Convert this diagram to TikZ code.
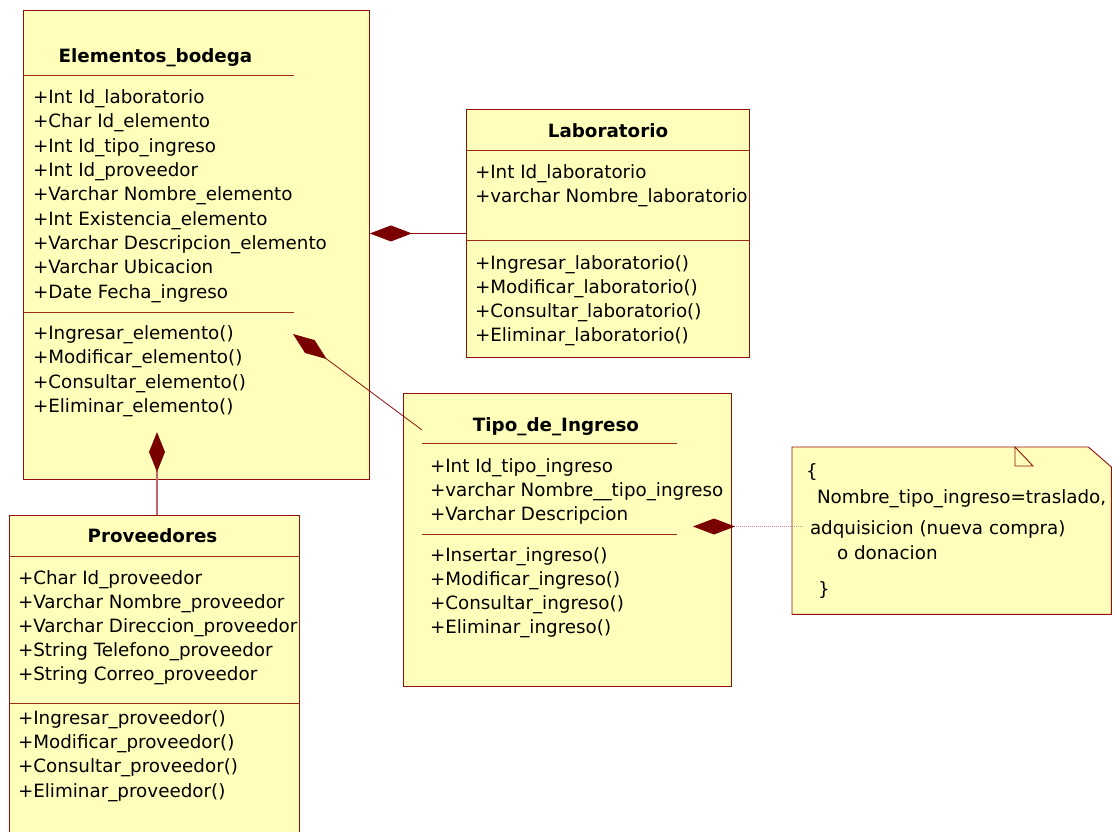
\documentclass[tikz,border=0pt]{standalone}
\usepackage{fontspec}
\setmainfont{DejaVu Sans}
\usetikzlibrary{arrows.meta}
\definecolor{clsfill}{HTML}{FFFFBB}
\definecolor{clsline}{HTML}{950E0E}
\definecolor{sepline}{HTML}{9E2A1C}
\definecolor{diam}{HTML}{7A0000}
\definecolor{linkpink}{HTML}{C06868}
\definecolor{notelink}{HTML}{C89090}
\begin{document}
\catcode`\_=12
\begin{tikzpicture}[x=1pt,y=-1pt,
  font=\fontsize{18.3}{22}\selectfont,
  cls/.style={draw=clsline, fill=clsfill, line width=0.9pt, anchor=north west, inner sep=0pt},
  member/.style={anchor=base west, inner sep=0pt, outer sep=0pt},
  title/.style={anchor=base, inner sep=0pt, font=\fontsize{18.3}{22}\selectfont\bfseries},
  sep/.style={draw=sepline, line width=1pt},
  comp/.style={draw=clsline, line width=0.8pt},
  dtip/.tip={Diamond[length=42pt, width=16pt, fill=diam, color=diam]},
]
\useasboundingbox (0,0) rectangle (1119,831);

% ---------- Elementos_bodega ----------
\node[cls, minimum width=346pt, minimum height=469pt] (elem) at (23,10) {};
\node[title] (elemT) at (155.5,62) {Elementos_bodega};
\draw[sep] (elem.west |- 0,75) -- (294,75);
\draw[sep] (elem.west |- 0,312) -- (294,312);
\foreach \t [count=\i from 0] in {+Int Id_laboratorio, +Char Id_elemento, +Int Id_tipo_ingreso,
    +Int Id_proveedor, +Varchar Nombre_elemento, +Int Existencia_elemento,
    +Varchar Descripcion_elemento, +Varchar Ubicacion, +Date Fecha_ingreso}
  \node[member] (ea\i) at (33, 103.3+24.375*\i) {\t};
\foreach \t [count=\i from 0] in {+Ingresar_elemento(), +Modificar_elemento(),
    +Consultar_elemento(), +Eliminar_elemento()}
  \node[member] (em\i) at (33, 339.5+24.33*\i) {\t};

% ---------- Laboratorio ----------
\node[cls, minimum width=283pt, minimum height=248pt] (lab) at (466,109) {};
\node[title] (labT) at (608,137) {Laboratorio};
\draw[sep] (lab.west |- 0,150) -- (lab.east |- 0,150);
\draw[sep] (lab.west |- 0,240) -- (lab.east |- 0,240);
\foreach \t [count=\i from 0] in {+Int Id_laboratorio, +varchar Nombre_laboratorio}
  \node[member] (la\i) at (475, 178.5+24*\i) {\t};
\foreach \t [count=\i from 0] in {+Ingresar_laboratorio(), +Modificar_laboratorio(),
    +Consultar_laboratorio(), +Eliminar_laboratorio()}
  \node[member] (lm\i) at (475, 269.5+24*\i) {\t};

% ---------- Proveedores ----------
\node[cls, minimum width=290pt, minimum height=330pt] (prov) at (9,515) {};
\node[title] (provT) at (152.5,542.5) {Proveedores};
\draw[sep] (prov.west |- 0,556) -- (prov.east |- 0,556);
\draw[sep] (prov.west |- 0,703) -- (prov.east |- 0,703);
\foreach \t [count=\i from 0] in {+Char Id_proveedor, +Varchar Nombre_proveedor,
    +Varchar Direccion_proveedor, +String Telefono_proveedor, +String Correo_proveedor}
  \node[member] (pa\i) at (18, 584.5+24*\i) {\t};
\foreach \t [count=\i from 0] in {+Ingresar_proveedor(), +Modificar_proveedor(),
    +Consultar_proveedor(), +Eliminar_proveedor()}
  \node[member] (pm\i) at (18, 724+24.33*\i) {\t};

% ---------- Tipo_de_Ingreso ----------
\node[cls, minimum width=328pt, minimum height=293pt] (tipo) at (403,393) {};
\node[title] (tipoT) at (556,431) {Tipo_de_Ingreso};
\draw[sep] (422,443) -- (677,443);
\draw[sep] (422,534) -- (677,534);
\foreach \t [count=\i from 0] in {+Int Id_tipo_ingreso, +varchar Nombre__tipo_ingreso,
    +Varchar Descripcion}
  \node[member] (ta\i) at (430, 472+24.25*\i) {\t};
\foreach \t [count=\i from 0] in {+Insertar_ingreso(), +Modificar_ingreso(),
    +Consultar_ingreso(), +Eliminar_ingreso()}
  \node[member] (tm\i) at (430, 561.5+24*\i) {\t};

% ---------- Note ----------
\node[anchor=north west, minimum width=319pt, minimum height=167pt, inner sep=0pt] (note) at (792,447) {};
\draw[draw=clsline, fill=clsfill, line width=0.9pt]
  (note.north west) -- ([xshift=-23pt]note.north east) -- ([yshift=-20pt]note.north east)
  -- (note.south east) -- (note.south west) -- cycle;
\draw[draw=clsline, line width=0.9pt] (1015,447) -- (1015,466) -- (1033,466) -- cycle;
\node[member, anchor=west] (n0) at (806,472) {\{};
\node[member] (n1) at (817,503) {Nombre_tipo_ingreso=traslado,};
\node[member] (n2) at (810,534) {adquisicion (nueva compra)};
\node[member] (n3) at (837,559) {o donacion};
\node[member, anchor=west] (n4) at (818,590) {\}};

% ---------- Connectors ----------
\draw[comp, {dtip}-] (elem.east |- lab.west) -- (lab.west);
\coordinate (elemTip) at (293,334);
\coordinate (tipoEnd) at (422,430);
\draw[comp, {dtip}-] (elemTip) -- (tipoEnd);
\coordinate (provTip) at (157,432);
\draw[draw=linkpink, line width=1.6pt, -{Diamond[length=40pt, width=16pt, fill=diam, color=diam]}]
  (prov.north -| provTip) -- (provTip);
\coordinate (noteTip) at (693,526.5);
\coordinate (noteEnd) at (802,526.5);
\draw[draw=notelink, line width=1pt, dash pattern=on 1pt off 1pt, {dtip}-] (noteTip) -- (noteEnd);
\end{tikzpicture}
\end{document}
